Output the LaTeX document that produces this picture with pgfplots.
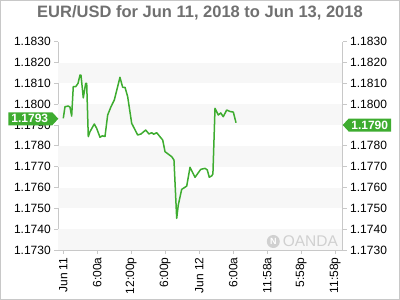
\documentclass[border=0pt]{standalone}
\usepackage{fontspec}
\setmainfont{Liberation Sans}
\usepackage{pgfplots}
\pgfplotsset{compat=1.18}
\definecolor{lineg}{RGB}{62,172,48}
\definecolor{tagg}{RGB}{62,172,48}
\definecolor{band}{RGB}{247,247,247}
\definecolor{axg}{RGB}{200,200,200}
\definecolor{titleg}{RGB}{112,112,112}
\definecolor{wm}{RGB}{208,208,208}
\pgfplotstableread{
h v
0.00 1.17932
0.30 1.17988
0.88 1.17991
1.18 1.17986
1.48 1.17943
1.76 1.18084
2.19 1.18084
2.60 1.18100
2.95 1.18140
3.12 1.18140
3.53 1.18030
3.95 1.18100
4.13 1.18100
4.41 1.17844
4.71 1.17868
5.47 1.17905
5.89 1.17884
6.48 1.17841
6.88 1.17848
7.36 1.17845
7.83 1.17948
8.42 1.17988
9.00 1.18020
10.00 1.18129
10.48 1.18081
10.89 1.18081
11.36 1.18036
12.07 1.17908
13.13 1.17852
13.71 1.17857
14.54 1.17876
15.12 1.17857
15.60 1.17863
15.95 1.17856
16.48 1.17863
17.54 1.17828
17.95 1.17772
19.13 1.17748
19.53 1.17732
20.01 1.17452
20.29 1.17516
20.89 1.17591
21.78 1.17607
22.36 1.17697
23.24 1.17649
24.25 1.17687
25.00 1.17692
25.40 1.17685
25.76 1.17649
26.19 1.17656
26.40 1.17665
26.77 1.17980
27.35 1.17948
27.78 1.17958
28.23 1.17940
28.83 1.17972
29.42 1.17965
30.00 1.17962
30.48 1.17911
}\eurusd
\begin{document}
\begin{tikzpicture}
\useasboundingbox (-58.3pt,-50pt) rectangle (341.7pt,250pt);
\draw[axg, line width=1pt] (-57.8pt,-49.5pt) rectangle (341.2pt,249.5pt);
\node[font=\fontsize{16.5}{18}\selectfont\bfseries, text=titleg] at (141.7pt,237.5pt) {EUR/USD for Jun 11, 2018 to Jun 13, 2018};
\begin{axis}[
  scale only axis, width=284.4pt, height=208.3pt,
  xmin=-0.88, xmax=49.3, ymin=1.173, ymax=1.183,
  axis x line*=bottom, axis y line*=left,
  axis line style={-, draw=axg, line width=0.8pt},
  tick style={axg, line width=0.8pt},
  tick align=outside, major tick length=4pt,
  xtick={0,6,12,18,24,30,35.967,41.967,47.967},
  xticklabels={Jun 11,6:00a,12:00p,6:00p,Jun 12,6:00a,11:58a,5:58p,11:58p},
  xticklabel style={rotate=90, anchor=east, font=\fontsize{12}{14}\selectfont},
  ytick={1.173,1.174,1.175,1.176,1.177,1.178,1.179,1.180,1.181,1.182,1.183},
  yticklabel style={font=\fontsize{12}{14}\selectfont, /pgf/number format/.cd, fixed, fixed zerofill, precision=4, assume math mode=true},
  scaled y ticks=false,
  clip=false,
]
\fill[band] (axis cs:-0.88,1.181) rectangle (axis cs:49.3,1.182);
\fill[band] (axis cs:-0.88,1.179) rectangle (axis cs:49.3,1.180);
\fill[band] (axis cs:-0.88,1.177) rectangle (axis cs:49.3,1.178);
\fill[band] (axis cs:-0.88,1.175) rectangle (axis cs:49.3,1.176);
\fill[band] (axis cs:-0.88,1.173) rectangle (axis cs:49.3,1.174);
\addplot[lineg, line width=1.5pt, line join=round, no marks] table[x=h,y=v] {\eurusd};
\coordinate (L) at (axis cs:-0.88,1.1793);
\coordinate (R) at (axis cs:49.3,1.1790);
\end{axis}
\begin{axis}[
  scale only axis, width=284.4pt, height=208.3pt,
  xmin=-0.88, xmax=49.3, ymin=1.173, ymax=1.183,
  axis x line=none, axis y line*=right,
  axis line style={-, draw=axg, line width=0.8pt},
  tick style={axg, line width=0.8pt},
  tick align=outside, major tick length=4pt,
  ytick={1.173,1.174,1.175,1.176,1.177,1.178,1.179,1.180,1.181,1.182,1.183},
  yticklabel style={font=\fontsize{12}{14}\selectfont, /pgf/number format/.cd, fixed, fixed zerofill, precision=4, assume math mode=true},
  scaled y ticks=false,
]
\end{axis}
\fill[tagg] (L) -- ++(-6pt,6.5pt) -- ++(-44pt,0pt) -- ++(0pt,-13pt) -- ++(44pt,0pt) -- cycle;
\node[text=white, font=\fontsize{12}{14}\selectfont\bfseries] at ([xshift=-28.5pt]L) {1.1793};
\fill[tagg] (R) -- ++(6pt,6.5pt) -- ++(42.5pt,0pt) -- ++(0pt,-13pt) -- ++(-42.5pt,0pt) -- cycle;
\node[text=white, font=\fontsize{12}{14}\selectfont\bfseries] at ([xshift=27pt]R) {1.1790};
\fill[wm] (215pt,8.5pt) circle (6.5pt);
\node[text=white, font=\fontsize{9}{10}\selectfont\bfseries] at (215pt,8.5pt) {N};
\node[text=wm, font=\fontsize{15.5}{17}\selectfont, anchor=west] at (221pt,8.5pt) {OANDA};
\end{tikzpicture}
\end{document}
